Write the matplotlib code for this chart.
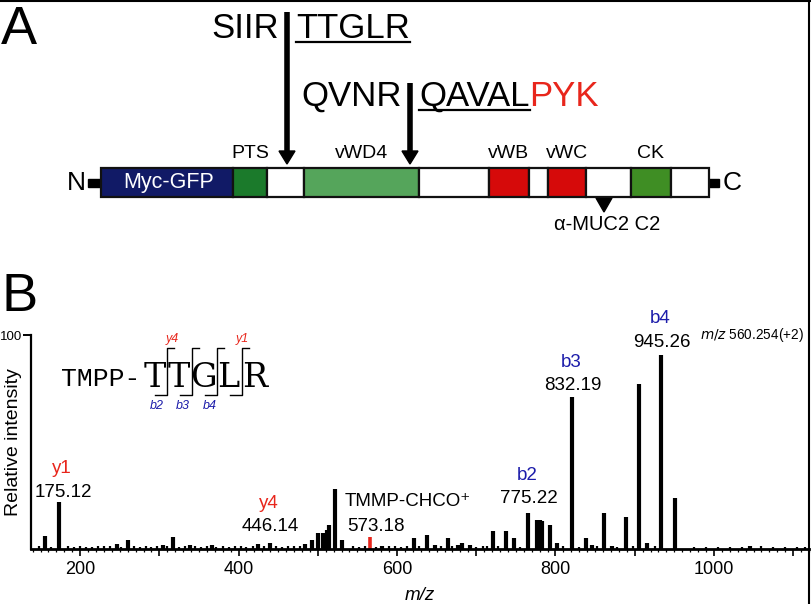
import matplotlib
matplotlib.use("Agg")
import matplotlib.pyplot as plt
from matplotlib import font_manager
from matplotlib.patches import Rectangle, Polygon
from matplotlib.lines import Line2D
from matplotlib.ticker import MultipleLocator, FixedLocator, FuncFormatter

# ---- panel A: construct (diagram units from the N-terminal end of the box)
domain_names = ["Myc-GFP", "PTS", "", "vWD4", "", "vWB", "", "vWC", "", "CK", ""]
domain_sizes = [132, 34, 37, 115, 70, 40, 19, 38, 45, 40, 38]
cleavage_sites = [186, 309]
antibody_site = 503

# ---- panel B: MS/MS spectrum
peak_mz = [155.8, 173.5, 246.7, 260.6, 304.7, 317.4, 338.8, 366.6, 424.6, 439.7,
           483.9, 492.7, 500.3, 506.6, 511.7, 514.2, 521.8, 530.6, 581.0, 621.5,
           637.9, 648.0, 664.4, 677.0, 682.0, 692.0, 721.0, 737.5, 747.6, 765.3,
           776.7, 780.5, 783.0, 793.0, 802.0, 820.8, 838.5, 846.0, 861.2, 871.0,
           889.0, 905.4, 915.5, 933.0, 950.8, 1045.0]
peak_int = [6.0, 22.0, 2.5, 4.0, 2.0, 5.5, 2.0, 2.0, 2.5, 3.0,
            2.5, 4.0, 7.5, 7.5, 9.0, 11.0, 28.0, 4.0, 1.5, 5.0,
            6.5, 2.0, 5.0, 2.0, 3.0, 2.0, 8.5, 8.5, 5.0, 17.0,
            13.5, 13.5, 13.0, 11.0, 3.0, 71.0, 5.0, 2.0, 17.0, 1.5,
            15.0, 77.0, 3.0, 90.5, 24.0, 1.5]
noise_mz = [148, 163, 185, 192, 200, 208, 215, 222, 230, 238, 252, 268, 275, 283,
            290, 297, 310, 325, 332, 345, 352, 360, 372, 380, 388, 395, 403, 410,
            418, 432, 447, 455, 462, 470, 478, 545, 552, 560, 574, 590, 598, 605,
            612, 628, 655, 670, 700, 708, 713, 728, 755, 810, 830, 852, 878, 898,
            925, 975, 990, 1005, 1020, 1035, 1060, 1075, 1090, 1105, 1115]
noise_int = [1.2, 1.0, 1.3, 0.9, 1.4, 1.1, 1.0, 1.5, 1.2, 1.3, 1.0, 1.6, 1.1, 1.2,
             1.0, 1.4, 1.3, 1.1, 1.2, 1.5, 1.0, 1.3, 1.1, 1.4, 1.0, 1.2, 1.3, 1.1,
             1.5, 1.2, 1.4, 1.1, 1.6, 1.3, 1.5, 1.2, 1.0, 1.4, 1.1, 1.3, 1.2, 1.0,
             1.5, 1.4, 1.2, 1.3, 1.1, 1.4, 1.2, 1.3, 1.0, 1.3, 1.1, 1.2, 1.0, 1.4,
             1.2, 1.0, 0.9, 1.1, 1.0, 0.9, 1.2, 1.0, 1.1, 0.9, 1.0]
precursor_mz = 566.0
precursor_int = 5.5

ion_names = ["y1", "y4", "b2", "b3", "b4"]
ion_values = ["175.12", "446.14", "775.22", "832.19", "945.26"]

RED = "#e8261c"
BLUE = "#1c1caa"
domain_colors = ["#111a66", "#1b7a2b", "white", "#55a55b", "white", "#d60a0a",
                 "white", "#d60a0a", "white", "#3f8e24", "white"]

installed = {f.name for f in font_manager.fontManager.ttflist}
SANS = "Liberation Sans" if "Liberation Sans" in installed else "DejaVu Sans"
NARROW = "Liberation Sans Narrow" if "Liberation Sans Narrow" in installed else SANS
plt.rcParams["font.family"] = [SANS, "DejaVu Sans"]

fig = plt.figure(figsize=(8.12, 6.04), dpi=100)

# full-figure layer in pixel units for the diagram
ax_a = fig.add_axes([0, 0, 1, 1])
ax_a.set_xlim(0, 812)
ax_a.set_ylim(604, 0)
ax_a.axis("off")

ax_a.text(1, 44, "A", fontsize=39, family=NARROW, va="baseline", ha="left")
ax_a.text(1, 311, "B", fontsize=39, family=NARROW, va="baseline", ha="left")

box_x0, box_top, box_h = 101, 168, 29
x = box_x0
for name, size, col in zip(domain_names, domain_sizes, domain_colors):
    ax_a.add_patch(Rectangle((x, box_top), size, box_h, facecolor=col,
                             edgecolor="#111111", lw=1.6, zorder=2))
    if name == "Myc-GFP":
        ax_a.text(x + size / 2 + 2, box_top + box_h / 2, name, color="white",
                  fontsize=15.5, ha="center", va="center", zorder=3)
    elif name:
        ax_a.text(x + size / 2, 154, name, fontsize=14, ha="center", va="center")
    x += size
box_x1 = x
mid = box_top + box_h / 2
ax_a.add_patch(Rectangle((88, mid - 4), box_x0 - 88, 8, color="black", zorder=1))
ax_a.add_patch(Rectangle((box_x1, mid - 4), 10, 8, color="black", zorder=1))
ax_a.text(76, mid + 1, "N", fontsize=19, ha="center", va="center")
ax_a.text(732, mid + 1, "C", fontsize=19, ha="center", va="center")

# antibody epitope
ab_x = box_x0 + antibody_site
ax_a.add_patch(Polygon([(ab_x - 8, 198), (ab_x + 8, 198), (ab_x, 212)], color="black"))
ax_a.text(ab_x + 3, 225, "\u03b1-MUC2 C2", fontsize=14.5, ha="center", va="center")

# cleavage arrows with sequences
tops = [12, 83]
left_seq = ["SIIR", "QVNR"]
right_seq = ["TTGLR", "QAVAL"]
baselines = [38, 106]
fig.canvas.draw()
r = fig.canvas.get_renderer()
inv = ax_a.transData.inverted()
for site, top, ls, rs, yb in zip(cleavage_sites, tops, left_seq, right_seq, baselines):
    cx = box_x0 + site
    ax_a.plot([cx, cx], [top, 153], color="black", lw=4, solid_capstyle="butt")
    ax_a.add_patch(Polygon([(cx - 8, 151), (cx + 8, 151), (cx, 164)], color="black"))
    ax_a.text(cx - 8, yb, ls, fontsize=25, ha="right", va="baseline")
    t = ax_a.text(cx + 9, yb, rs, fontsize=25, ha="left", va="baseline")
    bb = t.get_window_extent(r)
    (x0, _), (x1, _) = inv.transform([(bb.x0, bb.y0), (bb.x1, bb.y1)])
    ax_a.plot([x0, x1], [yb + 4, yb + 4], color="black", lw=1.6)
    if rs == "QAVAL":
        ax_a.text(x1, yb, "PYK", fontsize=25, ha="left", va="baseline", color=RED)

# ---- panel B axes
ax = fig.add_axes([31 / 812, 55 / 604, 778 / 812, 214 / 604])
ax.patch.set_alpha(0)
ax.set_xlim(138, 1120)
ax.set_ylim(0, 100)
for s in ["top", "right"]:
    ax.spines[s].set_visible(False)
ax.spines["left"].set_linewidth(1.6)
ax.spines["bottom"].set_linewidth(2.0)

ax.vlines(noise_mz, 0, noise_int, color="black", lw=1.6)
ax.vlines(peak_mz, 0, peak_int, color="black", lw=3.0)
ax.vlines([precursor_mz], 0, [precursor_int], color=RED, lw=2.6)

ax.xaxis.set_major_locator(MultipleLocator(100))
ax.xaxis.set_minor_locator(MultipleLocator(10))
ax.xaxis.set_major_formatter(FuncFormatter(lambda v, p: f"{v:.0f}" if v % 200 == 0 else ""))
ax.tick_params(axis="x", which="major", length=5, width=1.2, labelsize=13, pad=4)
ax.tick_params(axis="x", which="minor", length=2.5, width=0.9)
ax.yaxis.set_major_locator(FixedLocator([100]))
ax.tick_params(axis="y", length=5.5, width=1.4, labelsize=9.5, pad=0.5)
ax.set_xlabel("m/z", fontsize=13.5, style="italic", labelpad=6)
ax.set_ylabel("Relative intensity", fontsize=14)
ax.yaxis.set_label_coords(-0.012, 0.5)

# ion labels: value centre (m/z, intensity)
label_pos = [(178.5, 26.6), (439.7, 10.3), (766.5, 23.4), (822, 76.2), (934, 96.7)]
for name, val, (lx, ly) in zip(ion_names, ion_values, label_pos):
    col = RED if name.startswith("y") else BLUE
    ax.text(lx, ly, val, fontsize=13.5, ha="center", va="center", clip_on=False)
    ax.annotate(name, (lx, ly), xytext=(-1, 17), textcoords="offset points",
                fontsize=13.5, ha="center", va="center", color=col,
                annotation_clip=False)
ax.text(534, 22, "TMMP-CHCO\u207a", fontsize=13.5, ha="left", va="center",
        family=[SANS, "DejaVu Sans"], clip_on=False)
ax.text(537, 10.3, "573.18", fontsize=13.5, ha="left", va="center", clip_on=False)
ax.text(983, 100, "$\\it{m/z}$ 560.254(+2)", fontsize=9.8, ha="left", va="center",
        clip_on=False)

# fragment map inset
ax.text(226.5, 79.5, "TMPP-", fontsize=19, family="Liberation Mono",
        ha="center", va="center")
letters = ["T", "T", "G", "L", "R"]
letter_x = [294.6, 324.9, 355.2, 386.8, 420.8]
for ch, lx in zip(letters, letter_x):
    ax.text(lx, 80, ch, fontsize=24, family="DejaVu Serif", ha="center", va="center")
bracket_x = [309.8, 341.3, 372.9, 404.4]
for bx in bracket_x:
    ax.plot([bx + 9, bx, bx, bx - 15], [93.9, 93.9, 72.0, 72.0], color="black", lw=1.0)
ax.text(316, 98, "y4", fontsize=9, style="italic", color=RED, ha="center", va="center")
ax.text(404.4, 98, "y1", fontsize=9, style="italic", color=RED, ha="center", va="center")
for name, lx in zip(["b2", "b3", "b4"], [297, 330, 364]):
    ax.text(lx, 66.8, name, fontsize=9, style="italic", color=BLUE, ha="center", va="center")

# scan frame edges
fig.add_artist(Line2D([0, 1], [0.999, 0.999], transform=fig.transFigure, color="black", lw=1.5))
fig.add_artist(Line2D([0.9968, 0.9968], [0, 1], transform=fig.transFigure, color="black", lw=1.5))

fig.savefig("out.png", dpi=100)
